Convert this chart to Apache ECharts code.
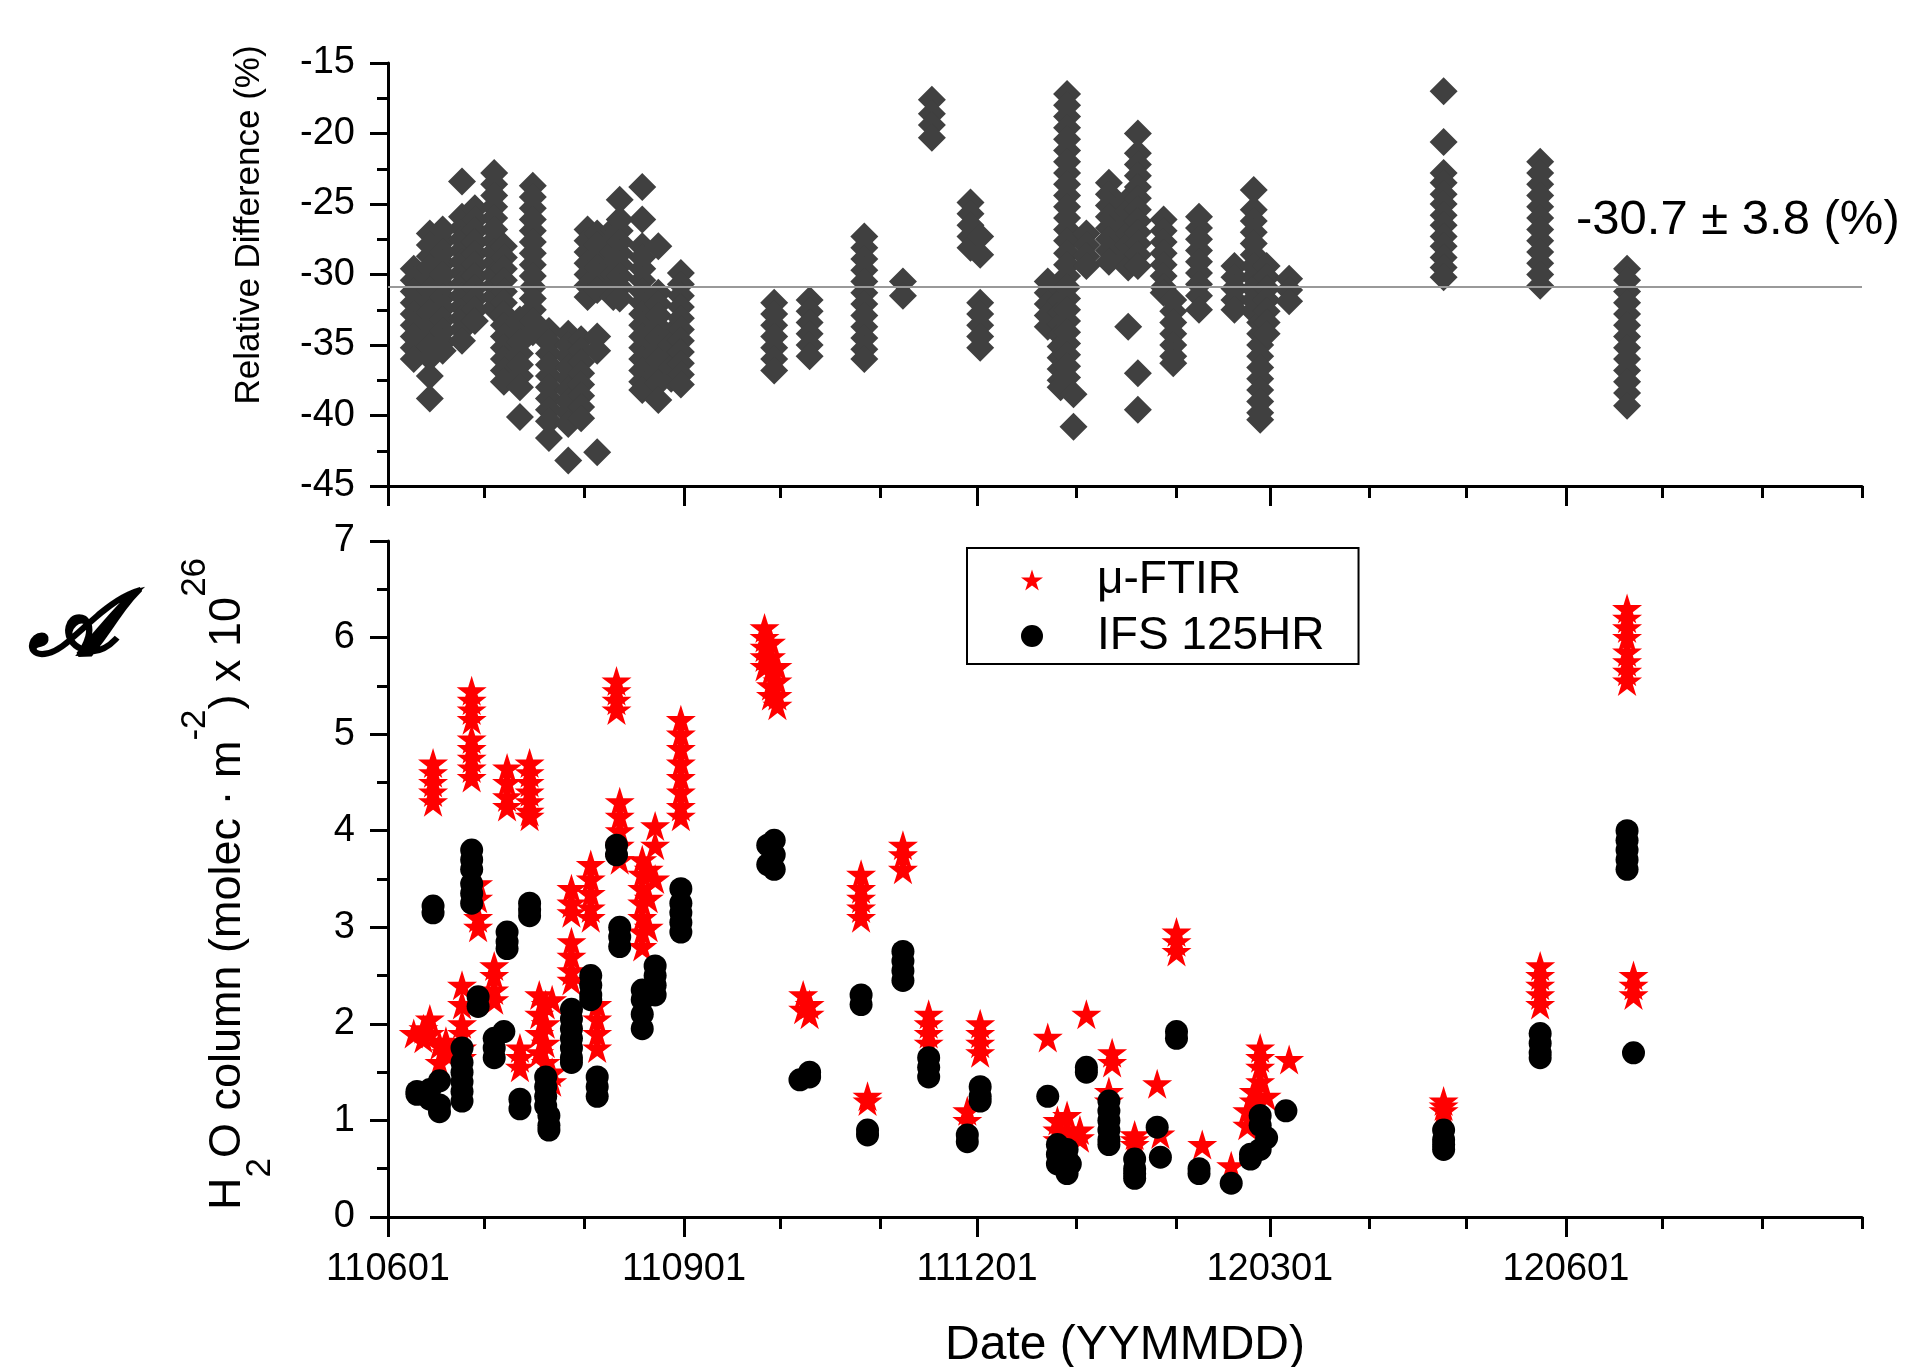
<!DOCTYPE html>
<html>
<head>
<meta charset="utf-8">
<title>H2O column: mu-FTIR vs IFS 125HR</title>
<script src="https://cdn.jsdelivr.net/npm/echarts@6/dist/echarts.min.js"></script>
<style>
  html, body { margin: 0; padding: 0; background: #fff; }
  #chart { width: 1908px; height: 1367px; }
</style>
</head>
<body>
<div id="chart"></div>
<script>
(function () {
  'use strict';

  // dates are YYMMDD
  const monthTicks = ['110601', '110701', '110801', '110901', '111001', '111101', '111201', '120101',
    '120201', '120301', '120401', '120501', '120601', '120701', '120801', '120901'];
  const labelTicks = ['110601', '110901', '111201', '120301', '120601'];

  // upper panel: relative difference (%)
  const diffDates = ['110609', '110614', '110618', '110624', '110628', '110704', '110707', '110712', '110716',
    '110721', '110727', '110731', '110802', '110805', '110810', '110812', '110819', '110824', '110828', '110831',
    '110929', '111010', '111027', '111108', '111117', '111129', '111202', '111223', '111227', '111229', '111231',
    '120104', '120111', '120117', '120120', '120128', '120131', '120208', '120219', '120225', '120227', '120229',
    '120307', '120424', '120524', '120620'];
  const diffValues = [
    [-29.6, -30.4, -31.2, -32.0, -32.8, -33.6, -34.4, -35.2, -36.0],
    [-27.1, -27.9, -28.7, -29.5, -30.3, -31.1, -31.9, -32.7, -33.5, -34.3, -35.1, -35.9, -37.2, -38.8],
    [-26.8, -27.6, -28.4, -29.2, -30.0, -30.8, -31.6, -32.4, -33.2, -34.0, -34.8, -35.4],
    [-23.4, -25.9, -26.7, -27.5, -28.3, -29.1, -29.9, -30.7, -31.5, -32.3, -33.1, -33.9, -34.7],
    [-25.3, -26.1, -26.9, -27.7, -28.5, -29.3, -30.1, -30.9, -31.7, -32.5, -33.3],
    [-22.8, -23.6, -24.4, -25.2, -26.0, -26.8, -27.6, -28.4, -29.2, -30.0, -30.8, -31.6, -32.4],
    [-28.0, -28.8, -29.6, -30.4, -31.2, -32.0, -32.8, -33.6, -34.4, -35.2, -36.0, -36.8, -37.6],
    [-33.2, -34.0, -34.8, -35.6, -36.4, -37.2, -38.0, -40.1],
    [-23.7, -24.5, -25.3, -26.1, -26.9, -27.7, -28.5, -29.3, -30.1, -30.9, -31.7, -32.5, -33.3, -34.1],
    [-34.0, -34.8, -35.6, -36.4, -37.2, -38.0, -38.8, -39.6, -40.4, -41.6],
    [-34.2, -35.0, -35.8, -36.6, -37.4, -38.2, -39.0, -39.8, -40.6, -43.2],
    [-34.6, -35.4, -36.2, -37.0, -37.8, -38.6, -39.4, -40.2],
    [-26.8, -27.6, -28.4, -29.2, -30.0, -30.8, -31.6],
    [-27.1, -27.9, -28.7, -29.5, -30.3, -31.1, -34.4, -35.4, -42.6],
    [-26.8, -27.6, -28.4, -29.2, -30.0, -30.8, -31.6],
    [-24.7, -26.1, -26.9, -27.7, -28.5, -29.3, -30.1, -30.9, -31.7],
    [-23.8, -26.1, -28.0, -28.8, -29.6, -30.4, -31.2, -32.0, -32.8, -33.6, -34.4, -35.2, -36.0, -36.8, -37.6, -38.2],
    [-28.0, -31.3, -32.1, -32.9, -33.7, -34.5, -35.3, -36.1, -36.9, -37.7, -38.9],
    [-34.2, -35.0, -35.8, -36.6, -37.4],
    [-29.9, -30.7, -31.5, -32.3, -33.1, -33.9, -34.7, -35.5, -36.3, -37.1, -37.8],
    [-32.0, -32.8, -33.6, -34.4, -35.2, -36.0, -36.8],
    [-31.8, -32.6, -33.4, -34.2, -35.0, -35.8],
    [-27.3, -28.1, -28.9, -29.7, -30.5, -31.3, -32.1, -32.9, -33.7, -34.5, -35.3, -36.0],
    [-30.5, -31.5],
    [-17.6, -18.6, -19.4, -20.3],
    [-24.9, -25.7, -26.5, -27.3, -28.1],
    [-27.3, -28.6, -32.0, -32.8, -33.6, -34.4, -35.2],
    [-30.5, -31.3, -32.1, -32.9, -33.7],
    [-31.9, -32.7, -33.5, -34.3, -35.1, -35.9, -36.7, -37.5, -38.0],
    [-17.2, -18.0, -18.8, -19.6, -20.4, -21.2, -22.0, -22.8, -23.6, -24.4, -25.2, -26.0, -26.8, -27.6, -28.5,
      -29.3, -30.1, -30.9, -31.7, -32.5, -33.3, -34.1, -34.9, -35.7, -36.5, -37.3],
    [-38.5, -40.8],
    [-27.1, -27.9, -28.7, -29.4],
    [-23.5, -24.3, -25.1, -25.9, -26.7, -27.5, -28.3, -29.1],
    [-24.7, -25.5, -26.3, -27.1, -27.9, -28.7, -29.5, -33.7],
    [-20.0, -21.4, -22.2, -23.0, -23.8, -24.6, -25.4, -26.2, -27.0, -27.8, -28.6, -29.4, -37.0, -39.6],
    [-26.1, -26.9, -27.7, -28.5, -29.3, -30.1, -30.9, -31.3],
    [-31.8, -32.6, -33.4, -34.2, -35.0, -35.8, -36.3],
    [-25.9, -26.7, -27.5, -28.3, -29.1, -29.9, -30.7, -31.5, -32.5],
    [-29.4, -30.2, -31.0, -31.8, -32.5],
    [-24.0, -25.4, -26.2, -27.0, -27.8, -28.6, -29.4, -30.2, -31.0, -31.8, -32.6],
    [-33.4, -34.2, -35.0, -35.8, -36.6, -37.4, -38.2, -39.0, -39.8, -40.3],
    [-29.4, -30.2, -31.0, -31.8, -32.6, -33.4, -34.2],
    [-30.3, -31.1, -31.9],
    [-17.0, -20.6, -22.8, -23.5, -24.3, -25.0, -25.8, -26.5, -27.3, -28.0, -28.8, -29.5, -30.2],
    [-22.0, -22.8, -23.6, -24.4, -25.2, -26.0, -26.8, -27.6, -28.4, -29.2, -30.0, -30.8],
    [-29.6, -30.4, -31.2, -32.0, -32.8, -33.6, -34.4, -35.2, -36.0, -36.8, -37.6, -38.4, -39.3]
  ];
  const diffMean = -30.9;
  const diffText = '-30.7 \u00b1 3.8 (%)';

  // lower panel: H2O column (x 1e26 molec m-2)
  const ftirDates = ['110609', '110612', '110614', '110615', '110617', '110619', '110624', '110627', '110629',
    '110704', '110708', '110712', '110715', '110718', '110720', '110722', '110728', '110803', '110805', '110811',
    '110812', '110819', '110821', '110823', '110831', '110926', '110928', '110930', '111008', '111010', '111026',
    '111028', '111108', '111116', '111128', '111202', '111223', '111226', '111229', '120102', '120104', '120111',
    '120112', '120119', '120126', '120127', '120201', '120209', '120218', '120223', '120225', '120227', '120229',
    '120307', '120424', '120524', '120620', '120622'];
  const ftirValues = [
    [1.9], [1.95, 1.85], [2.05, 1.9], [4.7, 4.6, 4.5, 4.4, 4.3], [1.78, 1.6], [1.82, 1.7],
    [2.4, 2.2, 2.0, 1.9, 1.75, 1.65], [5.45, 5.35, 5.25, 5.15, 4.95, 4.85, 4.75, 4.65, 4.55], [3.45, 3.3, 3.1, 3.0],
    [2.6, 2.5, 2.35, 2.25], [4.65, 4.5, 4.35, 4.25], [1.75, 1.65, 1.55], [4.7, 4.6, 4.5, 4.4, 4.3, 4.2, 4.15],
    [2.3, 2.1, 1.9, 1.7], [2.2, 2.0, 1.8, 1.6], [2.25, 1.5, 1.4], [3.4, 3.25, 3.15, 2.85, 2.7, 2.55, 2.45],
    [3.65, 3.5, 3.35, 3.2, 3.1], [2.2, 2.05, 1.9, 1.75], [5.55, 5.45, 5.35, 5.25],
    [4.3, 4.15, 4.0, 3.85, 3.7], [3.7, 3.55, 3.4, 3.25, 3.1, 2.95, 2.8], [3.6, 3.3, 3.0], [4.05, 3.85, 3.5],
    [5.15, 5.0, 4.85, 4.7, 4.55, 4.4, 4.25, 4.15], [6.1, 6.0, 5.9, 5.8, 5.7], [5.95, 5.8, 5.65, 5.5, 5.4],
    [5.7, 5.55, 5.4, 5.3], [2.3, 2.15], [2.2, 2.1], [3.55, 3.4, 3.3, 3.2, 3.1],
    [1.25, 1.2], [3.85, 3.75, 3.6], [2.1, 2.0, 1.9, 1.8], [1.1, 1.0], [2.0, 1.9, 1.8, 1.7], [1.86],
    [1.0, 0.9, 0.8], [1.05, 0.9, 0.85], [0.9, 0.82], [2.1], [1.3, 1.2],
    [1.7, 1.6], [0.85, 0.8, 0.75], [1.38], [0.86], [2.95, 2.85, 2.75], [0.75], [0.53], [0.95, 1.1],
    [1.3, 1.2], [1.75, 1.65, 1.55, 1.4], [1.25],
    [1.63], [1.2, 1.15, 1.1], [2.6, 2.5, 2.4, 2.3, 2.2], [6.3, 6.2, 6.1, 6.0, 5.85, 5.75, 5.65, 5.55], [2.5, 2.4, 2.3]
  ];

  const ifsDates = ['110610', '110614', '110615', '110617', '110624', '110627', '110629', '110704', '110707',
    '110708', '110712', '110715', '110720', '110721', '110728', '110803', '110805', '110811', '110812', '110819',
    '110823', '110831', '110927', '110929', '111007', '111010', '111026', '111028', '111108', '111116', '111128',
    '111202', '111223', '111226', '111229', '111230', '120104', '120111', '120119', '120126', '120127', '120201',
    '120208', '120218', '120224', '120227', '120229', '120306', '120424', '120524', '120620', '120622'];
  const ifsValues = [
    [1.27, 1.3], [1.32, 1.22], [3.22, 3.15], [1.41, 1.16, 1.09], [1.75, 1.6, 1.5, 1.4, 1.3, 1.2],
    [3.8, 3.7, 3.6, 3.45, 3.35, 3.25], [2.28, 2.18], [1.85, 1.75, 1.65], [1.92],
    [2.95, 2.85, 2.78], [1.22, 1.12], [3.25, 3.18, 3.12], [1.45, 1.35, 1.25, 1.15], [1.05, 0.95, 0.9],
    [2.15, 2.05, 1.95, 1.85, 1.75, 1.65, 1.6], [2.5, 2.4, 2.3, 2.25], [1.45, 1.35, 1.25], [3.85, 3.75],
    [3.0, 2.9, 2.8], [2.35, 2.25, 2.1, 1.95],
    [2.6, 2.5, 2.4, 2.3], [3.4, 3.25, 3.15, 3.05, 2.95], [3.85, 3.65], [3.9, 3.75, 3.6], [1.42], [1.5, 1.45],
    [2.3, 2.2], [0.9, 0.85], [2.75, 2.65, 2.55, 2.45], [1.65, 1.55, 1.45], [0.85, 0.78],
    [1.35, 1.25, 1.2], [1.25], [0.75, 0.65, 0.55], [0.7, 0.6, 0.5, 0.45], [0.55], [1.55, 1.5],
    [1.2, 1.1, 1.0, 0.9, 0.8, 0.75], [0.6, 0.5, 0.45, 0.4], [0.93], [0.62], [1.92, 1.85],
    [0.5, 0.45], [0.35], [0.65, 0.6], [1.05, 0.95, 0.7], [0.82], [1.1], [0.9, 0.8, 0.75, 0.7],
    [1.9, 1.8, 1.7, 1.65], [4.0, 3.9, 3.8, 3.7, 3.6], [1.7]
  ];

  const FONT = '"Liberation Sans", Arial, sans-serif';
  const STAR = 'path://M50,0 L61.23,34.55 L97.55,34.55 L68.17,55.9 L79.39,90.45 L50,69.1 L20.61,90.45 L31.83,55.9 L2.45,34.55 L38.77,34.55 Z';

  const DAY0 = Date.UTC(2011, 5, 1);
  function toDay(s) {
    const y = 2000 + Number(s.slice(0, 2));
    const m = Number(s.slice(2, 4)) - 1;
    const d = Number(s.slice(4, 6));
    return Math.round((Date.UTC(y, m, d) - DAY0) / 86400000);
  }
  function toPoints(dates, values) {
    const out = [];
    dates.forEach((d, i) => values[i].forEach(v => out.push([toDay(d), v])));
    return out;
  }

  const monthDays = monthTicks.map(toDay);
  const labelDays = labelTicks.map(toDay);
  const labelByDay = {};
  labelTicks.forEach((t, i) => { labelByDay[labelDays[i]] = t; });
  const xMax = monthDays[monthDays.length - 1];

  function majorX(grid, withLabels) {
    return {
      gridIndex: grid, type: 'value', position: 'bottom', min: 0, max: xMax,
      axisLine: { show: true, onZero: false, lineStyle: { color: '#000', width: 3 } },
      axisTick: { show: true, length: 20, customValues: labelDays, lineStyle: { color: '#000', width: 3 } },
      axisLabel: {
        show: withLabels, customValues: labelDays, margin: 34,
        formatter: v => labelByDay[v] || '', color: '#000', fontSize: 38, fontFamily: FONT
      },
      splitLine: { show: false }
    };
  }
  function minorX(grid) {
    return {
      gridIndex: grid, type: 'value', position: 'bottom', min: 0, max: xMax,
      axisLine: { show: false },
      axisTick: { show: true, length: 12, customValues: monthDays, lineStyle: { color: '#000', width: 3 } },
      axisLabel: { show: false },
      splitLine: { show: false }
    };
  }
  function yAxis(grid, min, max, interval) {
    return {
      gridIndex: grid, type: 'value', min: min, max: max, interval: interval,
      axisLine: { show: true, onZero: false, lineStyle: { color: '#000', width: 3 } },
      axisTick: { show: true, length: 18, lineStyle: { color: '#000', width: 3 } },
      minorTick: { show: true, splitNumber: 2, length: 11, lineStyle: { color: '#000', width: 3 } },
      axisLabel: { margin: 33, color: '#000', fontSize: 38, fontFamily: FONT },
      splitLine: { show: false }
    };
  }

  const chart = echarts.init(document.getElementById('chart'), null, { renderer: 'canvas' });

  chart.setOption({
    animation: false,
    backgroundColor: '#fff',
    textStyle: { fontFamily: FONT },
    grid: [
      { left: 388, top: 63, width: 1474, height: 423 },
      { left: 388, top: 541, width: 1474, height: 676 }
    ],
    xAxis: [majorX(0, false), minorX(0), majorX(1, true), minorX(1)],
    yAxis: [yAxis(0, -45, -15, 5), yAxis(1, 0, 7, 1)],
    legend: {
      data: [{ name: '\u03bc-FTIR', icon: STAR }, { name: 'IFS 125HR', icon: 'circle' }],
      orient: 'vertical', left: 967, top: 548,
      itemWidth: 22, itemHeight: 22, itemGap: 10,
      padding: [9, 34, 5, 54],
      borderColor: '#000', borderWidth: 2, borderRadius: 0,
      itemStyle: { opacity: 1 },
      textStyle: { color: '#000', fontSize: 46, fontFamily: FONT, padding: [0, 0, 0, 49] }
    },
    graphic: [
      {
        type: 'text', x: 249, y: 225, rotation: Math.PI / 2,
        style: { text: 'Relative Difference (%)', font: '35px ' + FONT, fill: '#000', align: 'center', verticalAlign: 'middle' }
      },
      {
        type: 'text', x: 228, y: 884, rotation: Math.PI / 2,
        style: {
          text: '{t|H}{sub|2}{t|O column (molec \u00b7 m}{sup|-2}{t|) x 10}{sup|26}',
          align: 'center', verticalAlign: 'middle', fill: '#000',
          rich: {
            t: { fontSize: 45, fontFamily: FONT, lineHeight: 100, fill: '#000' },
            sup: { fontSize: 35, fontFamily: FONT, lineHeight: 60, verticalAlign: 'top', fill: '#000' },
            sub: { fontSize: 35, fontFamily: FONT, lineHeight: 60, verticalAlign: 'bottom', fill: '#000' }
          }
        }
      },
      {
        type: 'text', x: 1576, y: 220,
        style: { text: diffText, font: '49px ' + FONT, fill: '#000', align: 'left', verticalAlign: 'middle' }
      },
      {
        type: 'text', x: 1125, y: 1346,
        style: { text: 'Date (YYMMDD)', font: '48px ' + FONT, fill: '#000', align: 'center', verticalAlign: 'middle' }
      },
      {
        type: 'text', x: 72, y: 630,
        style: { text: '\ud835\udc9c', font: 'bold italic 92px "DejaVu Serif", "DejaVu Sans", serif', fill: '#000',
          stroke: '#000', lineWidth: 2, align: 'center', verticalAlign: 'middle' }
      }
    ],
    series: [
      {
        name: 'Relative Difference', type: 'scatter', xAxisIndex: 0, yAxisIndex: 0,
        symbol: 'diamond', symbolSize: [28, 28],
        itemStyle: { color: '#404040', opacity: 1 },
        data: toPoints(diffDates, diffValues),
        markLine: {
          silent: true, symbol: 'none', label: { show: false },
          lineStyle: { color: '#999', width: 2, type: 'solid' },
          data: [{ yAxis: diffMean }]
        }
      },
      {
        name: '\u03bc-FTIR', type: 'scatter', xAxisIndex: 2, yAxisIndex: 1,
        symbol: STAR, symbolSize: [30, 30],
        itemStyle: { color: '#ff0000', opacity: 1 },
        data: toPoints(ftirDates, ftirValues)
      },
      {
        name: 'IFS 125HR', type: 'scatter', xAxisIndex: 2, yAxisIndex: 1,
        symbol: 'circle', symbolSize: 23,
        itemStyle: { color: '#000', opacity: 1 },
        data: toPoints(ifsDates, ifsValues)
      }
    ]
  });

  window.addEventListener('resize', () => chart.resize());
})();
</script>
</body>
</html>
